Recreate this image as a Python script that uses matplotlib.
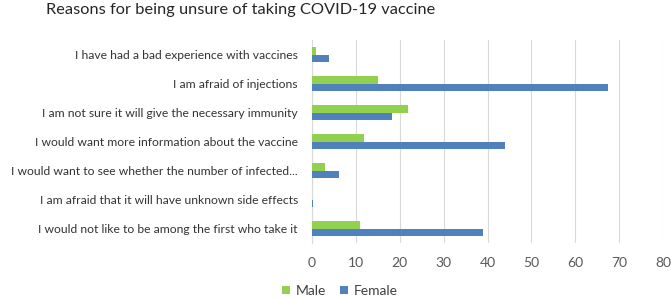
import numpy as np
import matplotlib.pyplot as plt

reasons = [
    "I have had a bad experience with vaccines",
    "I am afraid of injections",
    "I am not sure it will give the necessary immunity",
    "I would want more information about the vaccine",
    "I would want to see whether the number of infected...",
    "I am afraid that it will have unknown side effects",
    "I would not like to be among the first who take it",
]
male = [1, 15, 22, 12, 3, 0, 11]
female = [4, 67.5, 18.3, 44, 6.1, 0.4, 39]

plt.rcParams['font.family'] = ['Lato', 'DejaVu Sans']

fig = plt.figure(figsize=(6.71, 2.99), dpi=100)
ax = fig.add_axes([311.7 / 671, 56 / 299, 351.6 / 671, 203 / 299])

y = np.arange(len(reasons))
h = 0.26
ax.barh(y - h / 2, male, height=h, color='#92D050', label='Male', zorder=3)
ax.barh(y + h / 2, female, height=h, color='#4F81BD', label='Female', zorder=3)

ax.set_yticks(y)
ax.set_yticklabels(reasons, fontsize=8.7, color='#333333')
ax.set_ylim(len(reasons) - 0.5, -0.5)
ax.set_xlim(0, 80)
ax.set_xticks(range(0, 81, 10))
ax.tick_params(axis='x', labelsize=10, colors='#595959', length=0, pad=10)
ax.tick_params(axis='y', length=0, pad=10)
ax.grid(axis='x', color='#D9D9D9', linewidth=0.8, zorder=0)
for s in ['top', 'right', 'bottom']:
    ax.spines[s].set_visible(False)
ax.spines['left'].set_color('#D9D9D9')

fig.suptitle('Reasons for being unsure of taking COVID-19 vaccine', x=241 / 671, y=0.99,
             fontsize=11.8, color='#262626')
fig.legend(loc='lower center', bbox_to_anchor=(0.506, -0.035), ncol=2, frameon=False,
           fontsize=10, handlelength=0.6, handleheight=0.6, columnspacing=1.0,
           handletextpad=0.4, labelcolor='#404040')

fig.savefig('out.png', dpi=100)
